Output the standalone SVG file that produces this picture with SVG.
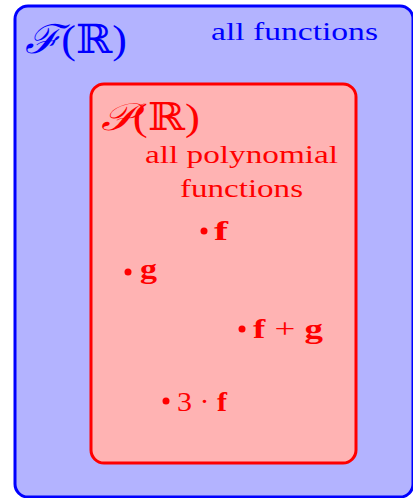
<svg xmlns="http://www.w3.org/2000/svg" width="413" height="498" viewBox="0 0 413 498">
<style>
.serif{font-family:"Liberation Serif","DejaVu Serif",serif}
.blue{fill:#0000ff}
.red{fill:#ff0000}
.pt{font-weight:bold;font-size:28px}
</style>
<rect x="0" y="0" width="413" height="498" fill="#ffffff"/>
<g id="outer">
<rect x="15" y="6" width="398" height="491" rx="13" fill="#b3b3ff" stroke="#0000ff" stroke-width="3"/>
<text x="25" y="53" class="serif blue" font-size="40" textLength="102" lengthAdjust="spacingAndGlyphs"><tspan font-family="DejaVu Serif" font-style="italic">ℱ</tspan>(<tspan font-family="DejaVu Serif">ℝ</tspan>)</text>
<text x="211" y="40" class="serif blue" font-size="26" textLength="167" lengthAdjust="spacingAndGlyphs">all functions</text>
</g>
<g id="inner">
<rect x="91" y="84" width="265" height="379" rx="13" fill="#ffb3b3" stroke="#ff0000" stroke-width="3"/>
<text x="101" y="130" class="serif red" font-size="38" textLength="99" lengthAdjust="spacingAndGlyphs"><tspan font-family="DejaVu Serif" font-style="italic">𝒫</tspan>(<tspan font-family="DejaVu Serif">ℝ</tspan>)</text>
<text x="145" y="163" class="serif red" font-size="26" textLength="193" lengthAdjust="spacingAndGlyphs">all polynomial</text>
<text x="180" y="197" class="serif red" font-size="26" textLength="123" lengthAdjust="spacingAndGlyphs">functions</text>
</g>
<g id="f"><circle cx="204" cy="231" r="3.5" class="red"/><text x="214" y="240" class="serif red pt" textLength="14" lengthAdjust="spacingAndGlyphs">f</text></g>
<g id="g"><circle cx="128" cy="272" r="3.5" class="red"/><text x="140" y="278" class="serif red pt" textLength="17" lengthAdjust="spacingAndGlyphs">g</text></g>
<g id="fg"><circle cx="242" cy="329" r="3.5" class="red"/><text x="253" y="338" class="serif red pt" textLength="70" lengthAdjust="spacingAndGlyphs">f <tspan font-weight="normal">+</tspan> g</text></g>
<g id="threef"><circle cx="166" cy="401" r="3.5" class="red"/><text x="177" y="411" class="serif red pt" textLength="50" lengthAdjust="spacingAndGlyphs"><tspan font-weight="normal">3 · </tspan>f</text></g>
<g id="connectors"/>
</svg>
